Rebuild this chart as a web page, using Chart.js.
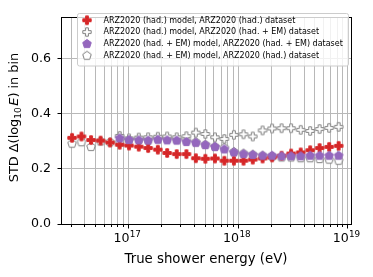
<!DOCTYPE html>
<html><head><meta charset="utf-8">
<script src="https://cdn.jsdelivr.net/npm/chart.js@4/dist/chart.umd.min.js"></script>
<style>html,body{margin:0;padding:0;background:#fff;overflow:hidden}</style>
</head><body>
<canvas id="c" width="373" height="277" style="display:block;width:373px;height:277px"></canvas>
<script>
// Bin centres of true shower energy (eV)
const energies = [3.05e16, 3.72e16, 4.55e16, 5.56e16, 6.79e16, 8.30e16, 1.01e17, 1.24e17, 1.51e17, 1.85e17,
  2.25e17, 2.75e17, 3.37e17, 4.11e17, 5.02e17, 6.14e17, 7.48e17, 9.14e17, 1.12e18, 1.36e18,
  1.67e18, 2.04e18, 2.49e18, 3.04e18, 3.72e18, 4.54e18, 5.53e18, 6.76e18, 8.26e18];
// ARZ2020 (had.) model, ARZ2020 (had.) dataset
const hadModelHadData = [0.313, 0.318, 0.305, 0.303, 0.296, 0.288, 0.285, 0.281, 0.276, 0.270,
  0.258, 0.254, 0.254, 0.239, 0.237, 0.238, 0.230, 0.230, 0.230, 0.234,
  0.238, 0.242, 0.248, 0.256, 0.260, 0.268, 0.276, 0.280, 0.284];
// ARZ2020 (had.) model, ARZ2020 (had. + EM) dataset
const hadModelEmData = [null, null, null, null, null, 0.320, 0.311, 0.314, 0.315, 0.317,
  0.318, 0.315, 0.319, 0.332, 0.327, 0.315, 0.309, 0.324, 0.326, 0.318,
  0.340, 0.347, 0.348, 0.348, 0.342, 0.338, 0.345, 0.349, 0.353];
// ARZ2020 (had. + EM) model, ARZ2020 (had. + EM) dataset
const emModelEmData = [null, null, null, null, null, 0.311, 0.305, 0.304, 0.303, 0.306,
  0.304, 0.303, 0.298, 0.295, 0.287, 0.280, 0.271, 0.260, 0.254, 0.251,
  0.248, 0.248, 0.246, 0.246, 0.246, 0.248, 0.248, 0.248, 0.248];
// ARZ2020 (had. + EM) model, ARZ2020 (had.) dataset
const emModelHadData = [0.292, 0.297, 0.280, 0.300, 0.297, 0.296, 0.304, 0.306, 0.304, 0.309,
  0.309, 0.306, 0.304, 0.297, 0.288, 0.281, 0.277, 0.262, 0.256, 0.252,
  0.248, 0.245, 0.242, 0.242, 0.239, 0.239, 0.236, 0.234, 0.230];
const seriesLabels = [
  'ARZ2020 (had.) model, ARZ2020 (had.) dataset',
  'ARZ2020 (had.) model, ARZ2020 (had. + EM) dataset',
  'ARZ2020 (had. + EM) model, ARZ2020 (had. + EM) dataset',
  'ARZ2020 (had. + EM) model, ARZ2020 (had.) dataset'
];
const yTickValues = [0.0, 0.2, 0.4, 0.6];
const xMajorTicks = [1e17, 1e18, 1e19];
const xTickExponents = ['17', '18', '19'];
const xAxisTitle = 'True shower energy (eV)';
// y title pieces: [text, style]
const yTitleParts = [['STD \u0394(log', 'n'], ['10', 'sub'], ['E', 'i'], [') in bin', 'n']];

const FONT = "'DejaVu Sans', sans-serif";

function makeMarker(shape, size, fill, stroke, lw) {
  const dim = Math.ceil(size + lw + 2);
  const c = document.createElement('canvas');
  c.width = dim; c.height = dim;
  const g = c.getContext('2d');
  const cx = dim / 2, cy = dim / 2;
  g.beginPath();
  if (shape === 'plus') {
    const a = size / 6, b = size / 2;
    const pts = [[-a,-b],[a,-b],[a,-a],[b,-a],[b,a],[a,a],[a,b],[-a,b],[-a,a],[-b,a],[-b,-a],[-a,-a]];
    pts.forEach((p, i) => i ? g.lineTo(cx + p[0], cy + p[1]) : g.moveTo(cx + p[0], cy + p[1]));
  } else {
    const r = size / 2;
    for (let i = 0; i < 5; i++) {
      const ang = -Math.PI / 2 + i * 2 * Math.PI / 5;
      const x = cx + r * Math.cos(ang), y = cy + r * Math.sin(ang);
      i ? g.lineTo(x, y) : g.moveTo(x, y);
    }
  }
  g.closePath();
  g.fillStyle = fill; g.fill();
  g.lineWidth = lw; g.strokeStyle = stroke; g.lineJoin = 'miter'; g.stroke();
  return c;
}

const RED = '#d62728', PURPLE = '#9467bd', GRAY = '#7f7f7f';
const mRed = makeMarker('plus', 8.4, RED, RED, 1);
const mGrayPlus = makeMarker('plus', 8.4, '#ffffff', GRAY, 1);
const mPurple = makeMarker('pent', 9, PURPLE, PURPLE, 1);
const mGrayPent = makeMarker('pent', 9, '#ffffff', GRAY, 1);

function pts(arr) {
  return energies.map((e, i) => ({x: e, y: arr[i]})).filter(p => p.y !== null);
}

function ds(label, arr, marker, order) {
  return {label, data: pts(arr), showLine: false, pointStyle: marker,
    pointRadius: 5, pointHoverRadius: 5, order,
    backgroundColor: 'transparent', borderColor: 'transparent'};
}

const allXTicks = [];
for (let n = 16; n <= 19; n++) for (let k = 1; k <= 9; k++) {
  const v = k * Math.pow(10, n);
  if (v >= 2.42e16 && v <= 1.07e19) allXTicks.push(v);
}
const majorIndex = v => xMajorTicks.findIndex(m => Math.abs(v / m - 1) < 1e-6);

const a = p => Math.round(p - 0.5) + 0.5;

const framePlugin = {
  id: 'frameTicksLegend',
  afterDraw(chart) {
    const ctx = chart.ctx, ca = chart.chartArea;
    const xs = chart.scales.x, ys = chart.scales.y;
    ctx.save();
    ctx.strokeStyle = '#000'; ctx.lineWidth = 1;
    const L = a(ca.left), R = a(ca.right), T = a(ca.top), B = a(ca.bottom);
    ctx.strokeRect(L, T, R - L, B - T);
    ctx.beginPath();
    allXTicks.forEach(v => {
      const px = a(xs.getPixelForValue(v));
      const len = majorIndex(v) >= 0 ? 4 : 2.5;
      ctx.moveTo(px, B); ctx.lineTo(px, B + len);
    });
    yTickValues.forEach(v => {
      const py = a(ys.getPixelForValue(v));
      ctx.moveTo(L, py); ctx.lineTo(L - 4, py);
    });
    ctx.stroke();

    // x tick labels 10^n
    ctx.fillStyle = '#000'; ctx.textBaseline = 'alphabetic'; ctx.textAlign = 'left';
    const BASE = '12.6px ' + FONT, SUP = '8.8px ' + FONT;
    xMajorTicks.forEach((v, i) => {
      const px = xs.getPixelForValue(v);
      ctx.font = BASE;
      const wb = ctx.measureText('10').width;
      ctx.font = SUP;
      const we = ctx.measureText(xTickExponents[i]).width;
      const x0 = px - (wb + we) / 2 - 1.5;
      ctx.font = BASE;
      ctx.fillText('10', x0, 242);
      ctx.font = SUP;
      ctx.fillText(xTickExponents[i], x0 + wb + 0.3, 236.5);
    });

    // y title with subscript / italic
    ctx.save();
    ctx.translate(18, 0);
    ctx.rotate(-Math.PI / 2);
    const fontFor = s => s === 'sub' ? '9px ' + FONT : (s === 'i' ? 'oblique 12.9px ' + FONT : '12.9px ' + FONT);
    let total = 0;
    yTitleParts.forEach(([t, s]) => { ctx.font = fontFor(s); total += ctx.measureText(t).width + (s === 'sub' ? 1.5 : 0); });
    let cx = -117.5 - total / 2;
    yTitleParts.forEach(([t, s]) => {
      ctx.font = fontFor(s);
      ctx.fillText(t, cx, s === 'sub' ? 3 : 0);
      cx += ctx.measureText(t).width + (s === 'sub' ? 1.5 : 0);
    });
    ctx.restore();

    // legend
    const bx = 77.5, by = 13.5, bw = 271, bh = 52.5, rad = 2;
    ctx.beginPath();
    ctx.moveTo(bx + rad, by);
    ctx.arcTo(bx + bw, by, bx + bw, by + bh, rad);
    ctx.arcTo(bx + bw, by + bh, bx, by + bh, rad);
    ctx.arcTo(bx, by + bh, bx, by, rad);
    ctx.arcTo(bx, by, bx + bw, by, rad);
    ctx.closePath();
    ctx.fillStyle = 'rgba(255,255,255,0.8)'; ctx.fill();
    ctx.strokeStyle = '#cccccc'; ctx.stroke();
    ctx.font = '8px ' + FONT;
    ctx.fillStyle = '#000'; ctx.textBaseline = 'middle'; ctx.textAlign = 'left';
    chart.data.datasets.forEach((d, i) => {
      const cy = 20.2 + i * 11.85;
      const m = d.pointStyle;
      ctx.drawImage(m, 87 - m.width / 2, cy - m.height / 2);
      ctx.fillText(d.label, 103.5, cy + 0.3);
    });
    ctx.restore();
  }
};

new Chart(document.getElementById('c'), {
  type: 'scatter',
  data: {
    datasets: [
      ds(seriesLabels[0], hadModelHadData, mRed, 2),
      ds(seriesLabels[1], hadModelEmData, mGrayPlus, 3),
      ds(seriesLabels[2], emModelEmData, mPurple, 1),
      ds(seriesLabels[3], emModelHadData, mGrayPent, 4)
    ]
  },
  options: {
    responsive: false, animation: false, devicePixelRatio: 1,
    layout: {padding: {top: 10, right: 22, left: 0, bottom: 0}},
    plugins: {legend: {display: false}, tooltip: {enabled: false}},
    events: [],
    scales: {
      x: {
        type: 'logarithmic', min: 2.42e16, max: 1.07e19,
        afterBuildTicks: s => { s.ticks = allXTicks.map(v => ({value: v, major: majorIndex(v) >= 0})); },
        afterFit: s => { s.height = 53; },
        grid: {color: '#b8b8b8', lineWidth: 1, drawTicks: false},
        border: {display: false},
        ticks: {
          autoSkip: false, maxRotation: 0, minRotation: 0, padding: 7,
          color: '#000', font: {family: FONT, size: 11},
          callback: () => ''
        },
        title: {display: true, text: xAxisTitle, color: '#000', font: {family: FONT, size: 13.3}, padding: {top: 0, bottom: 9}}
      },
      y: {
        type: 'linear', min: 0, max: 0.75,
        afterBuildTicks: s => { s.ticks = yTickValues.map(v => ({value: v})); },
        afterFit: s => { s.width = 61; },
        grid: {color: '#b8b8b8', lineWidth: 1, drawTicks: false},
        border: {display: false},
        ticks: {
          padding: 10, color: '#000', font: {family: FONT, size: 12.6},
          callback: v => Number(v).toFixed(1)
        },
        title: {display: false}
      }
    }
  },
  plugins: [framePlugin]
});
</script>
</body></html>
